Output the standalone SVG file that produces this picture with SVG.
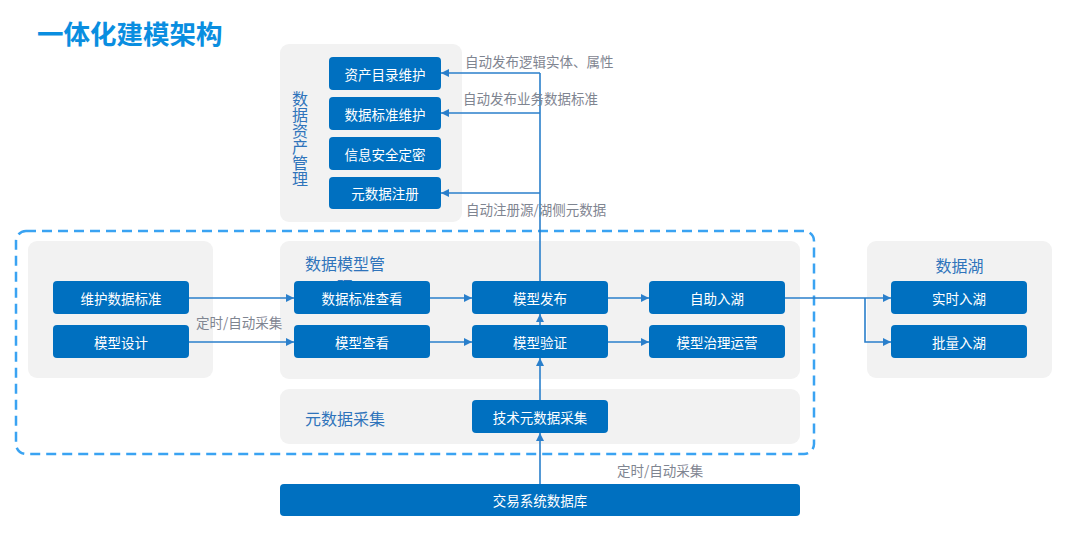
<svg xmlns="http://www.w3.org/2000/svg" width="1080" height="553" viewBox="0 0 1080 553">
<defs>
<style>
.panel{fill:#f2f2f2}
.node rect{fill:#0070c0}
.node text{fill:#ffffff;font-family:"Noto Sans CJK SC","Noto Sans",sans-serif;font-size:13.5px;text-anchor:middle;dominant-baseline:central}
.ptitle{fill:#2f74bb;font-family:"Noto Sans CJK SC","Noto Sans",sans-serif;font-size:16px}
.lbl{fill:#7f8591;font-family:"Noto Sans CJK SC","Noto Sans",sans-serif;font-size:13.5px}
.conn{stroke:#2a7fcb;stroke-width:1.6;fill:none}
.arr{marker-end:url(#ah)}
</style>
<marker id="ah" viewBox="0 0 10 10" refX="10" refY="5" markerWidth="8" markerHeight="8" markerUnits="userSpaceOnUse" orient="auto">
<path d="M0,0 L10,5 L0,10 z" fill="#2a7fcb"/>
</marker>
</defs>
<rect width="1080" height="553" fill="#ffffff"/>
<text x="37" y="44" fill="#0a8ee0" font-family="'Noto Sans CJK SC','Noto Sans',sans-serif" font-size="26.5" font-weight="bold">一体化建模架构</text>

<g id="panel-asset">
<rect class="panel" x="280" y="44" width="182" height="178" rx="9"/>
<text class="ptitle" x="300" y="91" style="writing-mode:vertical-rl;text-orientation:upright">数据资产管理</text>
</g>
<g id="panel-left"><rect class="panel" x="28" y="241" width="185" height="137" rx="9"/></g>
<g id="panel-model">
<rect class="panel" x="280" y="241" width="520" height="138" rx="9"/>
<text class="ptitle" x="305" y="270">数据模型管</text>
<text class="ptitle" x="337" y="293">理</text>
</g>
<g id="panel-meta">
<rect class="panel" x="280" y="389" width="520" height="55" rx="9"/>
<text class="ptitle" x="305" y="425">元数据采集</text>
</g>
<g id="panel-lake">
<rect class="panel" x="867" y="241" width="185" height="137" rx="9"/>
<text class="ptitle" x="959.500" y="272" text-anchor="middle">数据湖</text>
</g>

<rect x="16" y="231" width="798" height="223" rx="10" fill="none" stroke="#3aa3f2" stroke-width="2.5" stroke-dasharray="10 6"/>

<g id="connectors">
<path class="conn arr" d="M189,298 H294"/>
<path class="conn arr" d="M189,342 H294"/>
<path class="conn arr" d="M430,298 H472"/>
<path class="conn arr" d="M430,342 H472"/>
<path class="conn arr" d="M540,325 V314"/>
<path class="conn arr" d="M540,400 V358"/>
<path class="conn arr" d="M540,484 V433"/>
<path class="conn arr" d="M608,298 H649"/>
<path class="conn arr" d="M608,342 H649"/>
<path class="conn arr" d="M785,298 H891"/>
<path class="conn arr" d="M865,298 V342 H891"/>
<path class="conn" d="M540,281 V73"/>
<path class="conn arr" d="M540,73 H441"/>
<path class="conn arr" d="M540,113 H441"/>
<path class="conn arr" d="M540,193 H441"/>
<text class="lbl" x="465" y="67">自动发布逻辑实体、属性</text>
<text class="lbl" x="463" y="104">自动发布业务数据标准</text>
<text class="lbl" x="466" y="215">自动注册源/湖侧元数据</text>
<text class="lbl" x="196" y="328">定时/自动采集</text>
<text class="lbl" x="617" y="476">定时/自动采集</text>
</g>

<g id="n-zcml" class="node"><rect x="329" y="57" width="112" height="33" rx="4"/><text x="385" y="73.500">资产目录维护</text></g>
<g id="n-sjbzwh" class="node"><rect x="329" y="97" width="112" height="33" rx="4"/><text x="385" y="113.500">数据标准维护</text></g>
<g id="n-xxaq" class="node"><rect x="329" y="137" width="112" height="33" rx="4"/><text x="385" y="153.500">信息安全定密</text></g>
<g id="n-ysjzc" class="node"><rect x="329" y="177" width="112" height="32" rx="4"/><text x="385" y="193">元数据注册</text></g>

<g id="n-whsjbz" class="node"><rect x="53" y="281" width="136" height="33" rx="4"/><text x="121" y="297.500">维护数据标准</text></g>
<g id="n-mxsj" class="node"><rect x="53" y="325" width="136" height="33" rx="4"/><text x="121" y="341.500">模型设计</text></g>

<g id="n-sjbzck" class="node"><rect x="294" y="281" width="136" height="33" rx="4"/><text x="362" y="297.500">数据标准查看</text></g>
<g id="n-mxck" class="node"><rect x="294" y="325" width="136" height="33" rx="4"/><text x="362" y="341.500">模型查看</text></g>
<g id="n-mxfb" class="node"><rect x="472" y="281" width="136" height="33" rx="4"/><text x="540" y="297.500">模型发布</text></g>
<g id="n-mxyz" class="node"><rect x="472" y="325" width="136" height="33" rx="4"/><text x="540" y="341.500">模型验证</text></g>
<g id="n-zzrh" class="node"><rect x="649" y="281" width="136" height="33" rx="4"/><text x="717" y="297.500">自助入湖</text></g>
<g id="n-mxzl" class="node"><rect x="649" y="325" width="136" height="33" rx="4"/><text x="717" y="341.500">模型治理运营</text></g>

<g id="n-jsysj" class="node"><rect x="472" y="400" width="136" height="33" rx="4"/><text x="540" y="416.500">技术元数据采集</text></g>
<g id="n-jyxt" class="node"><rect x="280" y="484" width="520" height="32" rx="4"/><text x="540" y="500">交易系统数据库</text></g>

<g id="n-ssrh" class="node"><rect x="891" y="281" width="136" height="33" rx="4"/><text x="959" y="297.500">实时入湖</text></g>
<g id="n-plrh" class="node"><rect x="891" y="325" width="136" height="33" rx="4"/><text x="959" y="341.500">批量入湖</text></g>
</svg>
